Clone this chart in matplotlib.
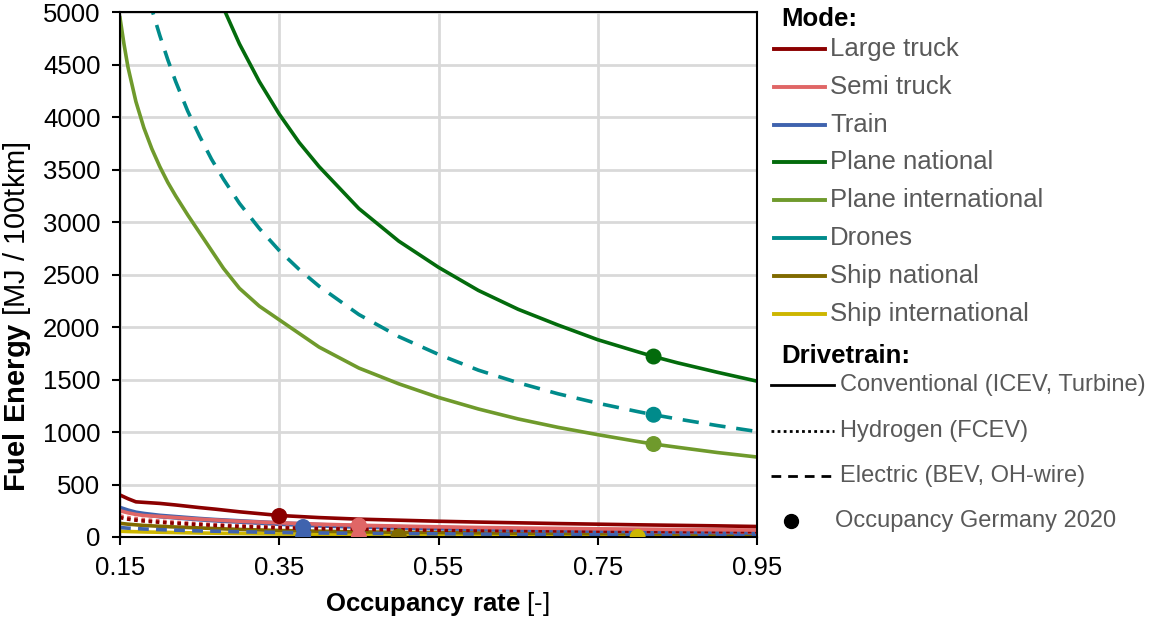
import numpy as np
import matplotlib.pyplot as plt
from matplotlib.lines import Line2D

plt.rcParams['font.family'] = ['Liberation Sans', 'DejaVu Sans']
plt.rcParams['mathtext.fontset'] = 'custom'
plt.rcParams['mathtext.rm'] = 'Liberation Sans'
plt.rcParams['mathtext.bf'] = 'Liberation Sans:bold'

# occupancy rate grid for the low curves
occ = [0.15, 0.16, 0.17, 0.18, 0.2, 0.22, 0.25, 0.27, 0.3, 0.35, 0.4, 0.45, 0.5,
       0.55, 0.6, 0.65, 0.7, 0.75, 0.8, 0.82, 0.85, 0.9, 0.95]

# fuel energy [MJ / 100tkm]
large_truck = [400, 365, 335, 330, 320, 305, 280, 265, 240, 205, 185, 170, 160,
               150, 142, 135, 128, 122, 116, 114, 111, 106, 100]
large_truck_h2 = [185, 170, 160, 152, 140, 130, 118, 110, 100, 88, 80, 74, 69,
                  65, 62, 60, 58, 56, 54, 53, 52, 51, 50]
semi_truck = [250, 230, 215, 205, 195, 185, 170, 162, 150, 135, 122, 112, 104,
              97, 91, 86, 82, 78, 75, 74, 72, 69, 66]
semi_truck_h2 = [200, 185, 175, 165, 152, 140, 126, 118, 108, 95, 86, 79, 73,
                 68, 64, 61, 58, 55, 52, 51, 50, 48, 46]
train = [275, 250, 230, 218, 200, 188, 170, 160, 148, 128, 112, 100, 92,
         85, 78, 72, 66, 61, 56, 54, 52, 48, 44]
train_bev = [90, 84, 80, 76, 70, 65, 58, 55, 50, 43, 38, 35, 32,
             30, 28, 26, 25, 24, 23, 22, 22, 21, 20]
ship_nat = [130, 122, 116, 110, 102, 95, 86, 80, 72, 62, 55, 49, 45,
            42, 39, 36, 34, 32, 30, 29, 28, 27, 25]
ship_int = [55, 52, 50, 48, 45, 42, 38, 36, 33, 28, 25, 22, 20,
            18, 17, 16, 15, 14, 13, 12, 12, 11, 10]

# finer grid for the plane / drone curves
occ_fine = [0.15, 0.155, 0.16, 0.17, 0.18, 0.19, 0.2, 0.21, 0.22, 0.235, 0.25, 0.265,
            0.28, 0.3, 0.325, 0.35, 0.375, 0.4, 0.45, 0.5, 0.55, 0.6, 0.65, 0.7,
            0.75, 0.8, 0.82, 0.85, 0.9, 0.95]
plane_int = [4950, 4700, 4480, 4150, 3900, 3700, 3530, 3380, 3250, 3070, 2900, 2730,
             2560, 2370, 2200, 2070, 1940, 1810, 1610, 1460, 1330, 1220, 1125, 1045,
             975, 910, 886, 855, 805, 762]
plane_nat = [9400, 9100, 8800, 8300, 7830, 7420, 7050, 6710, 6410, 6000, 5640, 5320,
             5040, 4700, 4340, 4030, 3760, 3530, 3130, 2820, 2570, 2350, 2170, 2020,
             1880, 1765, 1720, 1660, 1570, 1485]
drones = [6370, 6160, 5970, 5620, 5300, 5030, 4780, 4550, 4340, 4060, 3820, 3600,
          3410, 3180, 2940, 2730, 2550, 2390, 2120, 1910, 1740, 1590, 1470, 1365,
          1275, 1195, 1165, 1125, 1062, 1005]

# occupancy Germany 2020 markers
mark_x = [0.35, 0.38, 0.38, 0.45, 0.45, 0.5, 0.8, 0.82, 0.82, 0.82]
mark_y = [200, 95, 5, 110, 0, 5, 0, 1720, 1165, 886]

c_large = '#8B0000'
c_semi = '#E06666'
c_train = '#3F63AE'
c_pnat = '#036B0C'
c_pint = '#6F9A2C'
c_drone = '#008B8B'
c_snat = '#806A00'
c_sint = '#CDB600'
mark_c = [c_large, c_train, c_train, c_semi, c_semi, c_snat, c_sint, c_pnat, c_drone, c_pint]

fig = plt.figure(figsize=(11.58, 6.19), dpi=100)
ax = fig.add_axes([0.1036, 0.1325, 0.5502, 0.8475])

lw = 2.6
ax.plot(occ, ship_int, color=c_sint, lw=lw)
ax.plot(occ, ship_nat, color=c_snat, lw=lw)
ax.plot(occ, train_bev, color=c_train, lw=lw, ls=(0, (3, 2)))
ax.plot(occ, train, color=c_train, lw=lw + 1)
ax.plot(occ, semi_truck_h2, color=c_semi, lw=lw, ls=(0, (1, 1)))
ax.plot(occ, large_truck_h2, color=c_large, lw=lw, ls=(0, (1, 1)))
ax.plot(occ, semi_truck, color=c_semi, lw=lw)
ax.plot(occ, large_truck, color=c_large, lw=lw)
ax.plot(occ_fine, plane_int, color=c_pint, lw=lw)
ax.plot(occ_fine, plane_nat, color=c_pnat, lw=lw)
ax.plot(occ_fine, drones, color=c_drone, lw=lw, ls=(0, (4.5, 3)))
ax.scatter(mark_x, mark_y, s=110, c=mark_c, zorder=5, clip_on=True)

ax.set_xlim(0.15, 0.95)
ax.set_ylim(0, 5000)
ax.set_xticks([0.15, 0.35, 0.55, 0.75, 0.95])
ax.set_xticklabels(['0.15', '0.35', '0.55', '0.75', '0.95'])
ax.set_yticks(range(0, 5001, 500))
ax.grid(True, color='#D9D9D9', lw=2)
ax.set_axisbelow(True)
for s in ax.spines.values():
    s.set_color('black')
    s.set_linewidth(1.5)
ax.tick_params(labelsize=18.5, length=6, width=1.5, colors='black', pad=8)

W, H = 1158, 619
fig.text(437 / W, 1 - 604 / H, r'$\bf{Occupancy\ rate}$ [-]', fontsize=18.5,
         ha='center', va='center')
fig.text(17 / W, 1 - 317 / H, r'$\bf{Fuel\ Energy}$ [MJ / 100tkm]', fontsize=21,
         rotation=90, ha='center', va='center')

# legend drawn on the right side of the figure
txtc = '#595959'
fig.text(781 / W, 1 - 19 / H, 'Mode:', fontsize=18.5, fontweight='bold', va='center')
modes = ['Large truck', 'Semi truck', 'Train', 'Plane national', 'Plane international',
         'Drones', 'Ship national', 'Ship international']
mode_c = [c_large, c_semi, c_train, c_pnat, c_pint, c_drone, c_snat, c_sint]
for i, (m, c) in enumerate(zip(modes, mode_c)):
    yy = 1 - (49 + i * 37.8) / H
    fig.add_artist(Line2D([774 / W, 825 / W], [yy, yy], color=c, lw=2.8))
    fig.text(830 / W, yy, m, fontsize=18.5, color=txtc, va='center')

fig.text(781 / W, 1 - 356 / H, 'Drivetrain:', fontsize=18.5, fontweight='bold', va='center')
drive = ['Conventional (ICEV, Turbine)', 'Hydrogen (FCEV)', 'Electric (BEV, OH-wire)']
styles = ['-', (0, (1, 1.2)), (0, (3.5, 2.5))]
for i, (d, st) in enumerate(zip(drive, styles)):
    yy = 1 - (385 + i * 45.5) / H
    fig.add_artist(Line2D([771 / W, 834 / W], [yy, yy], color='black', lw=2, ls=st))
    fig.text(840 / W, yy, d, fontsize=17, color=txtc, va='center')
yy = 1 - 521 / H
fig.add_artist(Line2D([791 / W], [yy], color='black', marker='o', ms=10, ls='none'))
fig.text(835 / W, yy, 'Occupancy Germany 2020', fontsize=17, color=txtc, va='center')

plt.savefig('out.png', dpi=100)
